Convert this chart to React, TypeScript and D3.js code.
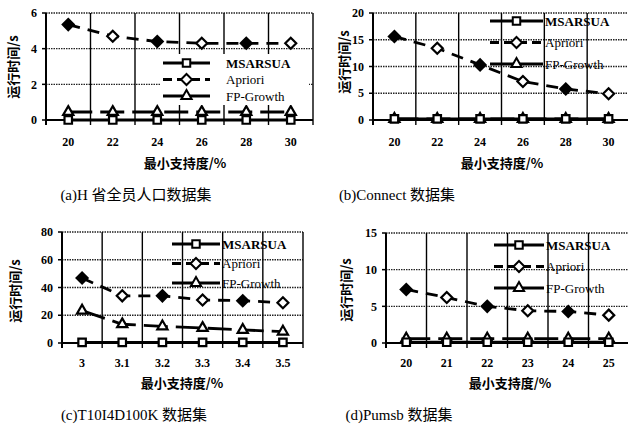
import React from 'react';
import * as d3 from 'd3';

// shared labels
const seriesNames = ['MSARSUA', 'Apriori', 'FP-Growth'];
const xTitle = '最小支持度/%';
const yTitle = '运行时间/s';

// (a) H province population
const catsA = ['20', '22', '24', '26', '28', '30'];
const msarsuaA = [0, 0, 0, 0, 0, 0];
const aprioriA = [5.35, 4.7, 4.4, 4.3, 4.3, 4.3];
const fpGrowthA = [0.45, 0.45, 0.45, 0.45, 0.45, 0.45];
const yTicksA = [0, 2, 4, 6];
const captionA = '(a)H 省全员人口数据集';

// (b) Connect
const catsB = ['20', '22', '24', '26', '28', '30'];
const msarsuaB = [0.2, 0.2, 0.2, 0.2, 0.2, 0.2];
const aprioriB = [15.6, 13.4, 10.3, 7.2, 5.8, 4.9];
const fpGrowthB = [0.2, 0.2, 0.2, 0.2, 0.2, 0.2];
const yTicksB = [0, 5, 10, 15, 20];
const captionB = '(b)Connect 数据集';

// (c) T10I4D100K
const catsC = ['3', '3.1', '3.2', '3.3', '3.4', '3.5'];
const msarsuaC = [0.5, 0.5, 0.5, 0.5, 0.5, 0.5];
const aprioriC = [46.8, 34, 34, 31, 30.5, 29];
const fpGrowthC = [23.3, 13.5, 12, 10.8, 9.4, 8.2];
const yTicksC = [0, 20, 40, 60, 80];
const captionC = '(c)T10I4D100K 数据集';

// (d) Pumsb
const catsD = ['20', '21', '22', '23', '24', '25'];
const msarsuaD = [0.1, 0.1, 0.1, 0.1, 0.1, 0.1];
const aprioriD = [7.3, 6.2, 5.0, 4.4, 4.3, 3.8];
const fpGrowthD = [0.6, 0.6, 0.6, 0.6, 0.6, 0.6];
const yTicksD = [0, 5, 10, 15];
const captionD = '(d)Pumsb 数据集';

const serifFont = '"Liberation Serif", "DejaVu Serif", serif';
const cjkFont = '"Noto Sans CJK SC", sans-serif';
const captionFont = '"Liberation Serif", "Noto Sans CJK SC", serif';

const seriesStyle = [
  { dash: null, marker: 'square' },
  { dash: '12,8', marker: 'diamond' },
  { dash: '24,8', marker: 'triangle' },
];

const markerPath = (kind: string) => {
  if (kind === 'square') return d3.symbol(d3.symbolSquare, 56)() as string;
  if (kind === 'diamond') return 'M0,-5.5L5.5,0L0,5.5L-5.5,0Z';
  return d3.symbol(d3.symbolTriangle, 45)() as string;
};

const panels = [
  {
    cats: catsA, series: [msarsuaA, aprioriA, fpGrowthA], yTicks: yTicksA, caption: captionA,
    left: 46, right: 313, top: 13, y0: 120,
    legend: { x1: 163, x2: 210, tx: 226, y: 63, gap: 16.5, bg: true },
    xTitle: [185, 168], yTitle: [13, 67], tickY: 146, captionPos: [136, 200],
  },
  {
    cats: catsB, series: [msarsuaB, aprioriB, fpGrowthB], yTicks: yTicksB, caption: captionB,
    left: 373, right: 630, top: 13, y0: 120,
    legend: { x1: 490, x2: 543, tx: 545, y: 21, gap: 21.5, bg: false },
    xTitle: [502, 168], yTitle: [344, 62], tickY: 146, captionPos: [397, 200],
  },
  {
    cats: catsC, series: [msarsuaC, aprioriC, fpGrowthC], yTicks: yTicksC, caption: captionC,
    left: 62, right: 303, top: 232, y0: 343,
    legend: { x1: 172, x2: 220, tx: 222, y: 244, gap: 19.5, bg: false },
    xTitle: [182, 388], yTitle: [15, 291], tickY: 367, captionPos: [134, 420],
  },
  {
    cats: catsD, series: [msarsuaD, aprioriD, fpGrowthD], yTicks: yTicksD, caption: captionD,
    left: 386, right: 629, top: 233, y0: 343,
    legend: { x1: 494, x2: 544, tx: 546, y: 245, gap: 21.5, bg: false },
    xTitle: [510, 388], yTitle: [346, 290], tickY: 367, captionPos: [399, 420],
  },
];

function Panel({ p }: { p: any }) {
  const x = d3.scaleBand<string>().domain(p.cats).range([p.left, p.right]);
  const yMax = p.yTicks[p.yTicks.length - 1];
  const y = d3.scaleLinear().domain([0, yMax]).range([p.y0, p.top]);
  const cx = (c: string) => (x(c) as number) + x.bandwidth() / 2;
  const line = d3.line<number>()
    .x((_, i) => cx(p.cats[i]))
    .y((d) => y(d));

  const bounds = p.cats.map((c: string) => x(c) as number).concat([p.right]);
  const order = [1, 2, 0]; // draw MSARSUA on top

  return (
    <g>
      {/* horizontal grid */}
      {p.yTicks.map((t: number) => (
        <g key={'h' + t}>
          <line x1={p.left} x2={p.right} y1={y(t)} y2={y(t)}
            stroke="#222" strokeWidth={1.4} strokeDasharray={t === 0 ? null : '1.5,1'} />
          <line x1={p.left - 4} x2={p.left} y1={y(t)} y2={y(t)} stroke="#000" strokeWidth={1.5} />
          <text x={p.left - 9} y={y(t)} dy="0.35em" textAnchor="end"
            fontFamily={serifFont} fontWeight="bold" fontSize={12}>{t}</text>
        </g>
      ))}
      {/* vertical separators */}
      {bounds.map((b: number, i: number) => (
        <line key={'v' + i} x1={b} x2={b} y1={p.top} y2={p.y0 + 5}
          stroke="#000" strokeWidth={i === 0 ? 2 : 1.4} />
      ))}
      <line x1={p.left} x2={p.right} y1={p.y0} y2={p.y0} stroke="#000" strokeWidth={2} />
      {/* x tick labels */}
      {p.cats.map((c: string) => (
        <text key={'xt' + c} x={cx(c)} y={p.tickY} textAnchor="middle"
          fontFamily={serifFont} fontWeight="bold" fontSize={12}>{c}</text>
      ))}
      {/* series */}
      {order.map((k) => {
        const vals = p.series[k];
        const st = seriesStyle[k];
        return (
          <g key={'s' + k}>
            <path d={line(vals) as string} fill="none" stroke="#000" strokeWidth={2.8}
              strokeDasharray={st.dash} />
            {vals.map((v: number, i: number) => (
              <path key={i} d={markerPath(st.marker)}
                transform={`translate(${cx(p.cats[i])},${y(v)})`}
                fill={k === 1 && i % 2 === 0 ? '#000' : '#fff'} stroke="#000" strokeWidth={2.2} />
            ))}
          </g>
        );
      })}
      {/* legend */}
      {p.legend.bg && (
        <rect x={p.legend.x1 - 2} y={p.legend.y - 9} width={p.right - p.legend.x1 - 2}
          height={p.legend.gap * 2 + 18} fill="#fff" />
      )}
      {seriesNames.map((name, k) => {
        const ly = p.legend.y + k * p.legend.gap;
        const mx = (p.legend.x1 + p.legend.x2) / 2;
        return (
          <g key={'lg' + k}>
            <line x1={p.legend.x1} x2={p.legend.x2} y1={ly} y2={ly} stroke="#000" strokeWidth={2.8}
              strokeDasharray={k === 1 ? '9,5' : null} />
            <path d={markerPath(seriesStyle[k].marker)} transform={`translate(${mx},${ly})`}
              fill="#fff" stroke="#000" strokeWidth={2} />
            <text x={p.legend.tx} y={ly} dy="0.35em" fontFamily={serifFont}
              fontWeight={k === 0 ? 'bold' : 'normal'} fontSize={13}>{name}</text>
          </g>
        );
      })}
      {/* axis titles */}
      <text x={p.xTitle[0]} y={p.xTitle[1]} textAnchor="middle" fontFamily={cjkFont}
        fontWeight="bold" fontSize={13}>{xTitle}</text>
      <text transform={`translate(${p.yTitle[0]},${p.yTitle[1]}) rotate(-90)`} dy="0.35em"
        textAnchor="middle" fontFamily={cjkFont} fontWeight="bold" fontSize={13}>{yTitle}</text>
      <text x={p.captionPos[0]} y={p.captionPos[1]} textAnchor="middle" fontFamily={captionFont}
        fontSize={15}>{p.caption}</text>
    </g>
  );
}

export default function App() {
  return (
    <div style={{ position: 'absolute', left: 0, top: 0 }}>
      <svg width={628} height={429} style={{ display: 'block', background: '#fff' }}>
        {panels.map((p, i) => <Panel key={i} p={p} />)}
      </svg>
    </div>
  );
}
